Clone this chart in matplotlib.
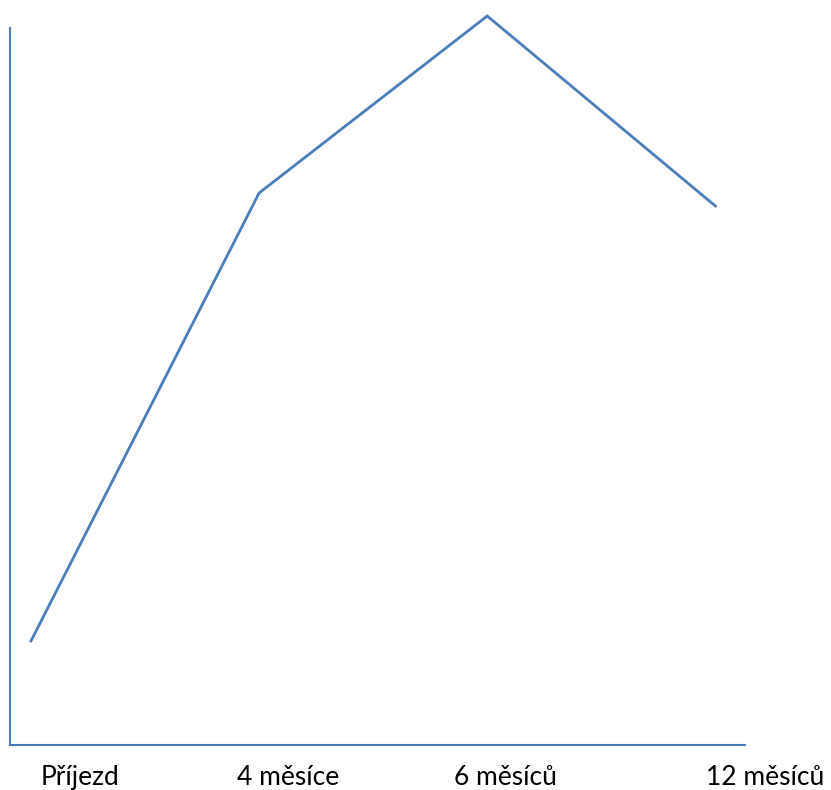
import matplotlib
matplotlib.use("Agg")
import matplotlib.pyplot as plt

# time since arrival, relative level (arbitrary units, no y scale shown)
labels = ["Příjezd", "4 měsíce", "6 měsíců", "12 měsíců"]
values = [104, 552, 729, 539]

BLUE = "#4A7EBB"

fig = plt.figure(figsize=(8.31, 7.90), dpi=100)
ax = fig.add_axes([10 / 831, 45 / 790, 735 / 831, 717 / 790])

xs = list(range(len(values)))
ax.plot(xs, values, color=BLUE, lw=2.0, clip_on=False, solid_joinstyle="miter")
ax.set_xlim(-0.092, 3.13)
ax.set_ylim(0, 717)

for sp in ("top", "right"):
    ax.spines[sp].set_visible(False)
for sp in ("left", "bottom"):
    ax.spines[sp].set_color(BLUE)
    ax.spines[sp].set_linewidth(1.5)
ax.set_yticks([])
ax.set_xticks([])

# category labels sit a little off their points, offsets in data units
label_x = [0.215, 1.127, 2.08, 3.22]
for x, t in zip(label_x, labels):
    ax.text(x, -20 / 717, t, transform=ax.get_xaxis_transform(), ha="center",
            va="top", fontsize=19, family="Lato", color="black", clip_on=False)

fig.savefig("out.png", dpi=100)
